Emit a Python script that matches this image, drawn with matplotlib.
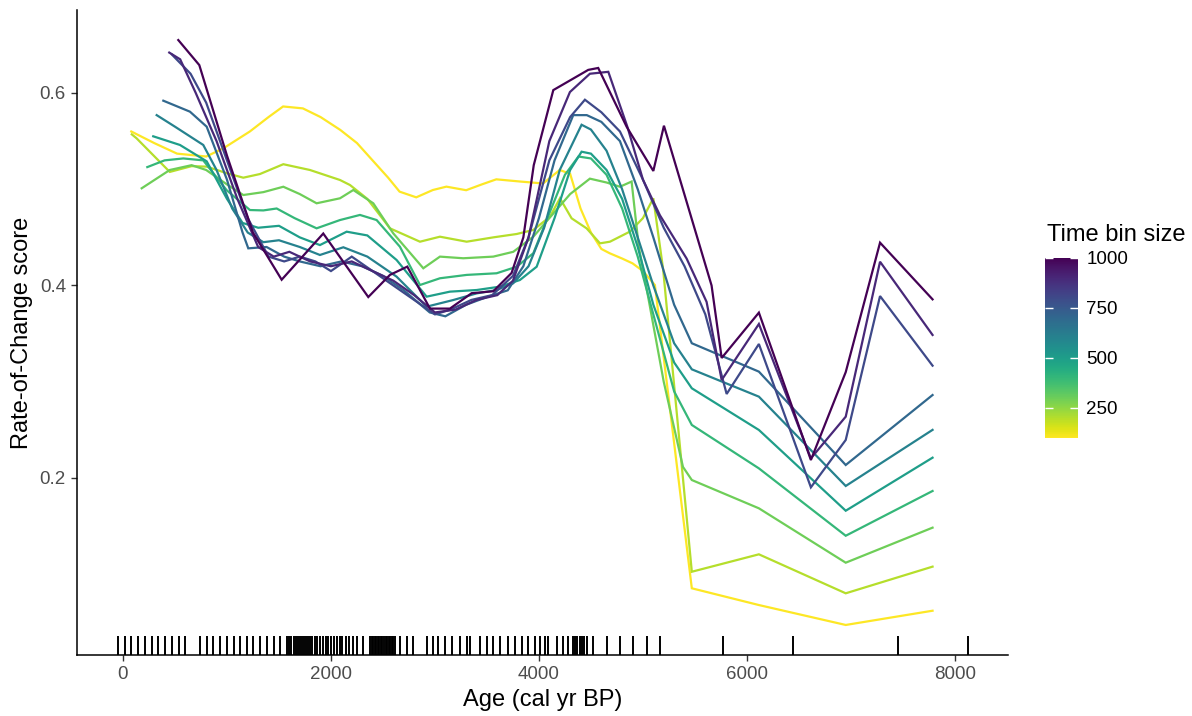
import numpy as np
import matplotlib
matplotlib.use("Agg")
import matplotlib.pyplot as plt
from matplotlib import cm
from matplotlib.colors import Normalize
import matplotlib.transforms as mtransforms

plt.rcParams['font.family'] = ['Liberation Sans', 'DejaVu Sans']

# time bin sizes and their RoC curves (age in cal yr BP, score)
bins = [100, 200, 300, 400, 500, 600, 700, 800, 900, 1000]

age_100 = [80, 300, 520, 800, 965, 1220, 1400, 1540, 1730, 1900, 2090, 2250, 2400, 2550, 2660, 2820,
           2980, 3110, 3300, 3450, 3590, 3820, 4040, 4200, 4300, 4400, 4500, 4600, 4680, 4800, 4900,
           5000, 5115, 5470, 6115, 6950, 7785]
roc_100 = [0.560, 0.548, 0.537, 0.534, 0.5425, 0.560, 0.575, 0.586, 0.584, 0.575, 0.5616, 0.548, 0.530,
           0.512, 0.4975, 0.4916, 0.4992, 0.5027, 0.499, 0.505, 0.5103, 0.508, 0.506, 0.520, 0.516, 0.48,
           0.455, 0.438, 0.4335, 0.428, 0.423, 0.415, 0.4005, 0.0854, 0.068, 0.0473, 0.0621]

age_200 = [85, 130, 450, 660, 805, 1000, 1157, 1317, 1542, 1798, 2087, 2183, 2350, 2567, 2856, 3048,
           3305, 3561, 3786, 3946, 4106, 4202, 4314, 4458, 4587, 4683, 4875, 5000, 5100, 5195, 5470,
           6115, 6950, 7785]
roc_200 = [0.557, 0.553, 0.518, 0.524, 0.5235, 0.5166, 0.512, 0.5158, 0.526, 0.520, 0.5096, 0.5044,
           0.490, 0.4594, 0.4455, 0.4507, 0.4455, 0.450, 0.4535, 0.4577, 0.4715, 0.4906, 0.4698, 0.4594,
           0.4438, 0.4455, 0.456, 0.470, 0.4906, 0.416, 0.1026, 0.1207, 0.0802, 0.1079]

age_300 = [180, 450, 660, 800, 1000, 1157, 1350, 1542, 1700, 1862, 2087, 2215, 2407, 2599, 2888, 3048,
           3272, 3561, 3753, 3946, 4100, 4300, 4490, 4650, 4779, 4891, 4960, 5035, 5200, 5385, 5470,
           6115, 6950, 7785]
roc_300 = [0.501, 0.520, 0.525, 0.520, 0.505, 0.494, 0.497, 0.5026, 0.495, 0.4854, 0.4906, 0.4992,
           0.4854, 0.4542, 0.4179, 0.430, 0.4283, 0.430, 0.435, 0.4507, 0.470, 0.495, 0.511, 0.507,
           0.5026, 0.508, 0.440, 0.397, 0.300, 0.2115, 0.1979, 0.1685, 0.112, 0.1484]

age_400 = [234, 400, 580, 772, 997, 1221, 1350, 1478, 1650, 1862, 2087, 2279, 2439, 2663, 2856, 3048,
           3305, 3593, 3786, 3946, 4100, 4250, 4380, 4500, 4650, 4800, 4950, 5100, 5300, 5470, 6115,
           6950, 7785]
roc_400 = [0.523, 0.530, 0.532, 0.530, 0.499, 0.4784, 0.478, 0.480, 0.470, 0.4594, 0.468, 0.4733, 0.468,
           0.4403, 0.4005, 0.4075, 0.411, 0.4127, 0.4195, 0.4335, 0.475, 0.515, 0.534, 0.532, 0.515,
           0.480, 0.430, 0.370, 0.290, 0.2551, 0.210, 0.140, 0.1865]

age_500 = [291, 548, 805, 1000, 1150, 1300, 1500, 1700, 1894, 2151, 2350, 2631, 2920, 3144, 3401, 3625,
           3817, 3978, 4150, 4300, 4410, 4500, 4650, 4800, 4950, 5100, 5300, 5470, 6115, 6950, 7785]
roc_500 = [0.555, 0.546, 0.529, 0.490, 0.465, 0.460, 0.462, 0.450, 0.442, 0.4559, 0.452, 0.4265, 0.3884,
           0.3936, 0.3953, 0.3988, 0.4057, 0.4195, 0.470, 0.520, 0.539, 0.537, 0.520, 0.490, 0.440,
           0.380, 0.320, 0.2932, 0.2499, 0.166, 0.2211]

age_600 = [324, 500, 772, 900, 1050, 1200, 1350, 1500, 1700, 1894, 2119, 2350, 2631, 2920, 3176, 3401,
           3593, 3753, 3900, 4050, 4200, 4410, 4500, 4650, 4800, 4950, 5100, 5300, 5470, 6115, 6950, 7785]
roc_600 = [0.577, 0.565, 0.546, 0.520, 0.480, 0.455, 0.445, 0.447, 0.440, 0.4317, 0.4397, 0.430, 0.4092,
           0.378, 0.3849, 0.3918, 0.3953, 0.4023, 0.420, 0.460, 0.520, 0.567, 0.562, 0.540, 0.500,
           0.450, 0.400, 0.340, 0.3129, 0.2845, 0.1917, 0.250]

age_700 = [388, 644, 805, 1000, 1150, 1205, 1381, 1550, 1700, 1900, 2100, 2300, 2500, 2700, 2950, 3100,
           3300, 3500, 3700, 3850, 4000, 4150, 4330, 4460, 4600, 4779, 4950, 5100, 5300, 5470, 6115,
           6950, 7785]
roc_700 = [0.592, 0.5806, 0.565, 0.510, 0.455, 0.4386, 0.440, 0.430, 0.425, 0.420, 0.425, 0.420, 0.410,
           0.395, 0.372, 0.368, 0.380, 0.388, 0.395, 0.420, 0.470, 0.530, 0.577, 0.577, 0.570, 0.550,
           0.500, 0.450, 0.380, 0.340, 0.3105, 0.2135, 0.2862]

age_800 = [470, 650, 800, 1000, 1200, 1400, 1550, 1700, 1850, 2000, 2200, 2400, 2600, 2800, 3000, 3150,
           3350, 3550, 3750, 3900, 4100, 4300, 4442, 4600, 4779, 5000, 5200, 5400, 5600, 5805, 6115,
           6615, 6950, 7280, 7785]
roc_800 = [0.640, 0.620, 0.590, 0.530, 0.470, 0.430, 0.425, 0.430, 0.425, 0.415, 0.430, 0.415, 0.400,
           0.385, 0.370, 0.375, 0.385, 0.390, 0.410, 0.450, 0.530, 0.575, 0.593, 0.580, 0.560, 0.510,
           0.460, 0.420, 0.370, 0.2873, 0.3392, 0.1903, 0.2395, 0.389, 0.3167]

age_900 = [445, 550, 700, 900, 1100, 1300, 1450, 1600, 1800, 2000, 2200, 2400, 2600, 2800, 3000, 3200,
           3400, 3600, 3750, 3900, 4100, 4298, 4490, 4667, 4850, 5000, 5163, 5420, 5612, 5757, 6115,
           6615, 6950, 7280, 7785]
roc_900 = [0.642, 0.635, 0.600, 0.550, 0.490, 0.440, 0.430, 0.435, 0.425, 0.420, 0.425, 0.415, 0.405,
           0.390, 0.372, 0.375, 0.385, 0.390, 0.405, 0.450, 0.550, 0.601, 0.620, 0.622, 0.565, 0.510,
           0.473, 0.428, 0.383, 0.3018, 0.360, 0.2204, 0.2637, 0.4247, 0.3486]

age_1000 = [532, 734, 1000, 1250, 1526, 1926, 2359, 2567, 2734, 2952, 3144, 3353, 3561, 3737, 3850, 3950,
            4138, 4330, 4474, 4570, 4843, 5100, 5202, 5660, 5757, 6115, 6615, 6950, 7280, 7785]
roc_1000 = [0.655, 0.629, 0.535, 0.455, 0.406, 0.454, 0.388, 0.411, 0.4196, 0.376, 0.376, 0.392, 0.394,
            0.413, 0.450, 0.525, 0.603, 0.615, 0.624, 0.626, 0.565, 0.519, 0.566, 0.400, 0.3247, 0.3718,
            0.2187, 0.310, 0.4445, 0.3856]

# ages of the samples (rug)
sample_ages = [-50, 15, 80, 145, 210, 275, 340, 405, 470, 535, 600,
               740, 805, 870, 935, 1000, 1065, 1130, 1190, 1255, 1320, 1385, 1450, 1510,
               1580, 1600, 1620, 1640, 1660, 1680, 1700, 1720, 1740, 1760, 1780, 1800, 1820, 1845, 1865,
               1895, 1920, 1950, 1975, 2000, 2030, 2060, 2085, 2110, 2140, 2170, 2210, 2250, 2308,
               2375, 2390, 2405, 2420, 2435, 2450, 2465, 2480, 2495, 2510, 2525, 2540, 2555, 2570, 2585,
               2600, 2615, 2663, 2728, 2791, 2920, 2981, 3029, 3096, 3163, 3240, 3308, 3337, 3433, 3500,
               3558, 3625, 3702, 3769, 3837, 3894, 3962, 4010, 4058, 4087, 4173, 4231, 4279,
               4330, 4350, 4370, 4390, 4410, 4430, 4462, 4519, 4654, 4779, 4904, 5038, 5163,
               5770, 6440, 7450, 8125]

series = [(age_100, roc_100), (age_200, roc_200), (age_300, roc_300), (age_400, roc_400),
          (age_500, roc_500), (age_600, roc_600), (age_700, roc_700), (age_800, roc_800),
          (age_900, roc_900), (age_1000, roc_1000)]

fig = plt.figure(figsize=(11.92, 7.16), dpi=100)
ax = fig.add_axes([0.0646, 0.0852, 0.781, 0.9008])

cmap = plt.get_cmap('viridis_r')
norm = Normalize(vmin=100, vmax=1000)

for b, (a, r) in zip(bins, series):
    ax.plot(a, r, color=cmap(norm(b)), lw=1.6, solid_joinstyle='miter')

trans = mtransforms.blended_transform_factory(ax.transData, ax.transAxes)
ax.vlines(sample_ages, 0, 0.03, transform=trans, color='black', lw=1.4)

ax.set_xlim(-442, 8510)
ax.set_ylim(0.0161, 0.6862)
ax.set_xticks([0, 2000, 4000, 6000, 8000])
ax.set_yticks([0.2, 0.4, 0.6])
ax.set_yticklabels(['0.2', '0.4', '0.6'])
for s in ['top', 'right']:
    ax.spines[s].set_visible(False)
for s in ['left', 'bottom']:
    ax.spines[s].set_linewidth(1.1)
ax.tick_params(labelsize=13.5, labelcolor='#4D4D4D', color='#333333', length=4.5, width=1.0)
ax.set_xlabel('Age (cal yr BP)', fontsize=17, labelpad=4)
ax.set_ylabel('Rate-of-Change score', fontsize=17, labelpad=5)

# colour bar legend
cax = fig.add_axes([1045 / 1192, 1 - 438 / 716, 33 / 1192, 180 / 716])
sm = cm.ScalarMappable(norm=norm, cmap=cmap)
cb = fig.colorbar(sm, cax=cax, ticks=[250, 500, 750, 1000])
cb.outline.set_visible(False)
cax.tick_params(which='both', direction='in', color='white', length=6, width=1,
                left=True, right=True, labelsize=13.5, pad=6)
cax.set_yticklabels(['250', '500', '750', '1000'])
fig.text(1047 / 1192, 1 - 235 / 716, 'Time bin size', fontsize=17, va='center', ha='left')

fig.savefig('out.png', dpi=100)
